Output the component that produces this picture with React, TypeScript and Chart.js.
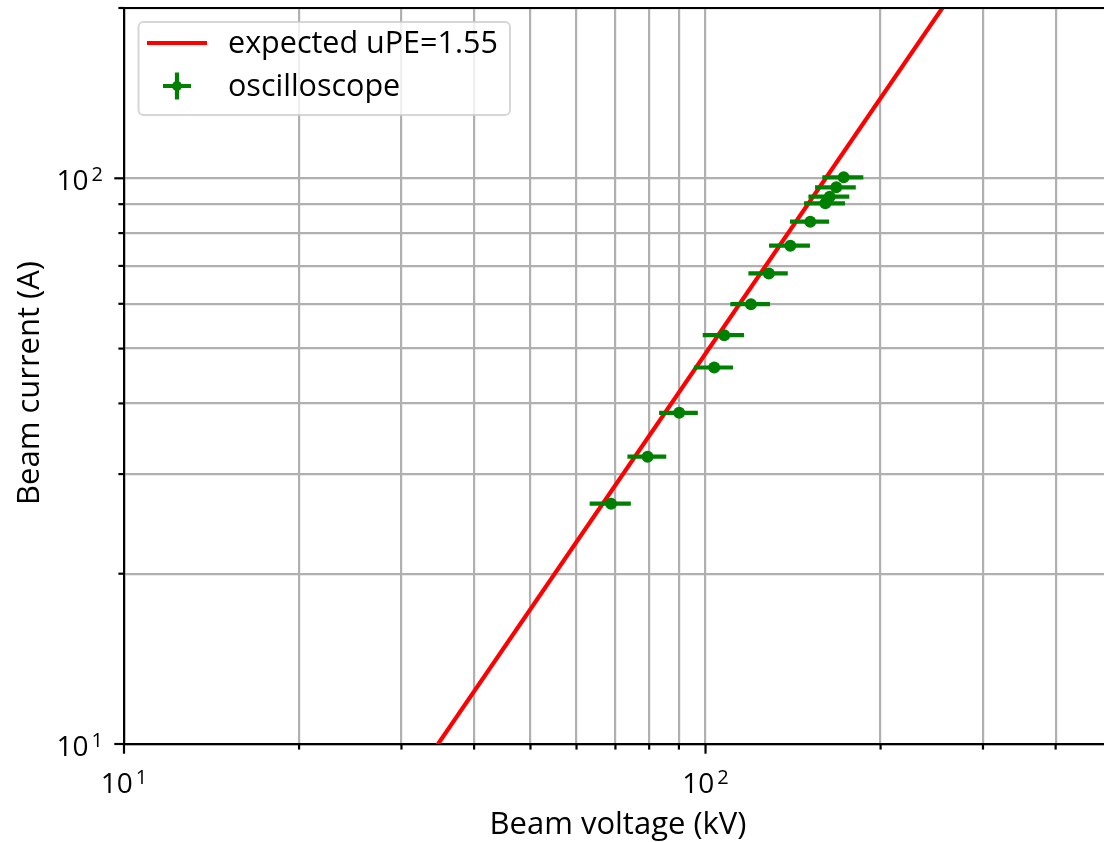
import React, { useEffect, useRef } from "react";
import { Chart, registerables } from "chart.js";

Chart.register(...registerables);

// ---- data ----
const voltageKV = [172.8, 167.8, 163.5, 160.7, 151.4, 139.9, 128.5, 119.7, 107.7, 103.5, 90.1, 79.5, 68.8];
const currentA = [100.4, 96.4, 92.8, 90.3, 83.8, 76.0, 67.9, 59.9, 52.8, 46.3, 38.5, 32.2, 26.6];
const voltageErrKV = [14.0, 13.5, 13.2, 13.0, 11.7, 11.3, 10.0, 9.4, 8.8, 8.0, 6.9, 6.1, 5.6];
const expectedVoltageKV = [20, 300];
const expectedCurrentA = [4.38, 254.6];

const xGridTicks = [10, 20, 30, 40, 50, 60, 70, 80, 90, 100, 200, 300, 400, 500];
const yGridTicks = [10, 20, 30, 40, 50, 60, 70, 80, 90, 100, 200];
const majorTickValues = [10, 100];
const majorTickBase = ["10", "10"];
const majorTickExponent = ["1", "2"];

const seriesLabels = ["expected uPE=1.55", "oscilloscope"];
const xTitle = "Beam voltage (kV)";
const yTitle = "Beam current (A)";

// ---- styles ----
const FONT = '"Open Sans", "Noto Sans", sans-serif';
const TICK_FS = 28;
const SUP_FS = 20;
const LABEL_FS = 31;
const LEGEND_FS = 30.5;
const RED = "#ff0000";
const GREEN = "#008000";
const GRID = "#b0b0b0";
const LW = 2.2;

const mplPlugin = {
  id: "mplLook",
  afterDatasetsDraw(chart: any) {
    const { ctx, chartArea: a, scales } = chart;
    const x = scales.x;
    const y = scales.y;
    ctx.save();
    ctx.beginPath();
    ctx.rect(a.left, a.top, a.right - a.left, a.bottom - a.top);
    ctx.clip();
    ctx.strokeStyle = GREEN;
    ctx.lineWidth = 4.2;
    ctx.lineCap = "butt";
    for (let i = 0; i < voltageKV.length; i++) {
      const py = y.getPixelForValue(currentA[i]);
      const x1 = x.getPixelForValue(voltageKV[i] - voltageErrKV[i]);
      const x2 = x.getPixelForValue(voltageKV[i] + voltageErrKV[i]);
      ctx.beginPath();
      ctx.moveTo(x1, py);
      ctx.lineTo(x2, py);
      ctx.stroke();
      const px = x.getPixelForValue(voltageKV[i]);
      ctx.fillStyle = GREEN;
      ctx.beginPath();
      ctx.arc(px, py, 6, 0, Math.PI * 2);
      ctx.fill();
    }
    ctx.restore();
  },
  afterDraw(chart: any) {
    const { ctx, chartArea: a, scales } = chart;
    const x = scales.x;
    const y = scales.y;
    ctx.save();
    // top spine
    ctx.strokeStyle = "#000";
    ctx.lineWidth = LW;
    ctx.beginPath();
    ctx.moveTo(a.left - LW / 2, a.top);
    ctx.lineTo(a.right, a.top);
    ctx.stroke();
    // tick marks
    ctx.lineWidth = LW;
    xGridTicks.forEach((v) => {
      const px = x.getPixelForValue(v);
      const len = majorTickValues.includes(v) ? 9.7 : 5.6;
      ctx.beginPath();
      ctx.moveTo(px, a.bottom);
      ctx.lineTo(px, a.bottom + len);
      ctx.stroke();
    });
    yGridTicks.forEach((v) => {
      const py = y.getPixelForValue(v);
      const len = majorTickValues.includes(v) ? 9.7 : 5.6;
      ctx.beginPath();
      ctx.moveTo(a.left, py);
      ctx.lineTo(a.left - len, py);
      ctx.stroke();
    });
    // tick labels
    ctx.fillStyle = "#000";
    ctx.textBaseline = "alphabetic";
    ctx.textAlign = "left";
    majorTickValues.forEach((v, i) => {
      ctx.font = `${TICK_FS}px ${FONT}`;
      const w1 = ctx.measureText(majorTickBase[i]).width;
      ctx.font = `${SUP_FS}px ${FONT}`;
      const w2 = ctx.measureText(majorTickExponent[i]).width;
      const gap = 3;
      const total = w1 + gap + w2;
      // x axis
      const px = x.getPixelForValue(v);
      let sx = px - total / 2;
      ctx.font = `${TICK_FS}px ${FONT}`;
      ctx.fillText(majorTickBase[i], sx, a.bottom + 48.5);
      ctx.font = `${SUP_FS}px ${FONT}`;
      ctx.fillText(majorTickExponent[i], sx + w1 + gap, a.bottom + 39.5);
      // y axis
      const py = y.getPixelForValue(v);
      sx = a.left - 21 - total;
      ctx.font = `${TICK_FS}px ${FONT}`;
      ctx.fillText(majorTickBase[i], sx, py + 12);
      ctx.font = `${SUP_FS}px ${FONT}`;
      ctx.fillText(majorTickExponent[i], sx + w1 + gap, py + 2.5);
    });
    // axis titles
    ctx.font = `${LABEL_FS}px ${FONT}`;
    ctx.textAlign = "center";
    ctx.fillText(xTitle, (a.left + a.right) / 2, 834);
    ctx.save();
    ctx.translate(39, 383);
    ctx.rotate(-Math.PI / 2);
    ctx.fillText(yTitle, 0, 0);
    ctx.restore();
    // legend
    const bx = 138.5, by = 22, bw = 371.5, bh = 93;
    ctx.beginPath();
    ctx.roundRect(bx, by, bw, bh, 5);
    ctx.fillStyle = "rgba(255,255,255,0.8)";
    ctx.fill();
    ctx.strokeStyle = "rgba(204,204,204,0.8)";
    ctx.lineWidth = 2;
    ctx.stroke();
    const ds = chart.data.datasets;
    // row 1: line
    ctx.strokeStyle = ds[0].borderColor;
    ctx.lineWidth = 4.2;
    ctx.beginPath();
    ctx.moveTo(147, 43);
    ctx.lineTo(207, 43);
    ctx.stroke();
    // row 2: errorbar marker
    ctx.strokeStyle = ds[1].borderColor;
    ctx.beginPath();
    ctx.moveTo(163, 86);
    ctx.lineTo(191, 86);
    ctx.moveTo(177, 72.5);
    ctx.lineTo(177, 99.5);
    ctx.stroke();
    ctx.fillStyle = ds[1].backgroundColor;
    ctx.beginPath();
    ctx.arc(177, 86, 5, 0, Math.PI * 2);
    ctx.fill();
    ctx.fillStyle = "#000";
    ctx.textAlign = "left";
    ctx.textBaseline = "middle";
    ctx.font = `${LEGEND_FS}px ${FONT}`;
    ctx.fillText(ds[0].label, 228, 44);
    ctx.fillText(ds[1].label, 228, 87);
    ctx.restore();
  },
};

export default function App() {
  const canvasRef = useRef<HTMLCanvasElement | null>(null);

  useEffect(() => {
    const canvas = canvasRef.current;
    if (!canvas) return;
    const expectedData = expectedVoltageKV.map((v, i) => ({ x: v, y: expectedCurrentA[i] }));
    const scopeData = voltageKV.map((v, i) => ({ x: v, y: currentA[i] }));

    const chart = new Chart(canvas, {
      type: "scatter",
      data: {
        datasets: [
          {
            label: seriesLabels[0],
            data: expectedData,
            showLine: true,
            borderColor: RED,
            backgroundColor: RED,
            borderWidth: 4.2,
            pointRadius: 0,
            clip: 0,
          } as any,
          {
            label: seriesLabels[1],
            data: scopeData,
            borderColor: GREEN,
            backgroundColor: GREEN,
            pointRadius: 0,
            borderWidth: 0,
          } as any,
        ],
      },
      options: {
        responsive: false,
        animation: false,
        events: [],
        layout: { padding: { top: 8, left: 0, right: 0, bottom: 0 } },
        plugins: {
          legend: { display: false },
          tooltip: { enabled: false },
          title: { display: false },
        },
        scales: {
          x: {
            type: "logarithmic",
            position: "bottom",
            min: 10,
            max: 500,
            afterBuildTicks: (s: any) => {
              s.ticks = xGridTicks.map((v) => ({ value: v, major: majorTickValues.includes(v) }));
            },
            afterFit: (s: any) => {
              s.height = 98;
            },
            ticks: { display: false, autoSkip: false },
            grid: { color: GRID, lineWidth: LW, drawTicks: false, tickLength: 0 },
            border: { display: true, color: "#000", width: LW },
            title: { display: false },
          },
          y: {
            type: "logarithmic",
            position: "left",
            min: 10,
            max: 200,
            afterBuildTicks: (s: any) => {
              s.ticks = yGridTicks.map((v) => ({ value: v, major: majorTickValues.includes(v) }));
            },
            afterFit: (s: any) => {
              s.width = 124;
            },
            ticks: { display: false, autoSkip: false },
            grid: { color: GRID, lineWidth: LW, drawTicks: false, tickLength: 0 },
            border: { display: true, color: "#000", width: LW },
            title: { display: false },
          },
        },
      } as any,
      plugins: [mplPlugin],
    });
    return () => chart.destroy();
  }, []);

  return (
    <div
      style={{
        position: "absolute",
        left: 0,
        top: 0,
        width: 1104,
        height: 842,
        overflow: "hidden",
        background: "#fff",
      }}
    >
      <canvas ref={canvasRef} width={1112} height={842} style={{ display: "block" }} />
    </div>
  );
}
